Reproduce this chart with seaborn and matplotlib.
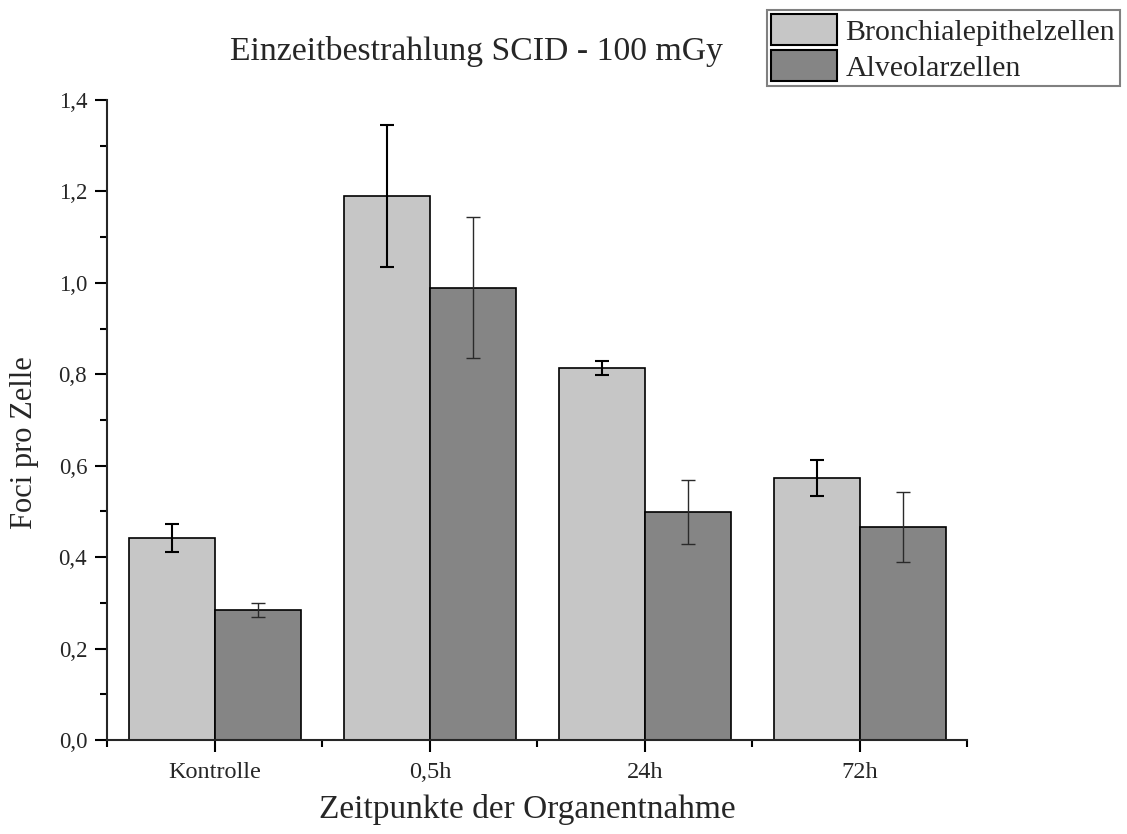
import matplotlib
matplotlib.use("Agg")
import matplotlib.pyplot as plt
from matplotlib.patches import Patch
import numpy as np
import pandas as pd
import seaborn as sns

# Foci per cell after single irradiation (SCID mice, 100 mGy)
categories = ["Kontrolle", "0,5h", "24h", "72h"]
cell_types = ["Bronchialepithelzellen", "Alveolarzellen"]
bronchial_mean = [0.442, 1.190, 0.813, 0.573]
bronchial_err = [0.030, 0.156, 0.015, 0.039]
alveolar_mean = [0.284, 0.989, 0.499, 0.466]
alveolar_err = [0.015, 0.154, 0.070, 0.077]
y_ticks = [0.0, 0.2, 0.4, 0.6, 0.8, 1.0, 1.2, 1.4]
y_tick_labels = ["0,0", "0,2", "0,4", "0,6", "0,8", "1,0", "1,2", "1,4"]

title = "Einzeitbestrahlung SCID - 100 mGy"
x_label = "Zeitpunkte der Organentnahme"
y_label = "Foci pro Zelle"

light = "#c6c6c6"
dark = "#858585"

df = pd.DataFrame({
    "Zeitpunkt": categories * 2,
    "Zelltyp": [cell_types[0]] * 4 + [cell_types[1]] * 4,
    "Foci": bronchial_mean + alveolar_mean,
})

sns.set_style("ticks")
plt.rcParams["font.family"] = ["Liberation Serif", "DejaVu Serif"]
plt.rcParams["axes.linewidth"] = 1.5

W, H = 1127, 834
fig = plt.figure(figsize=(W / 100, H / 100), dpi=100)
ax = fig.add_axes([107.5 / W, 1 - 740 / H, 860 / W, 640 / H])

sns.barplot(data=df, x="Zeitpunkt", y="Foci", hue="Zelltyp",
            order=categories, hue_order=cell_types,
            palette=[light, dark], width=0.8, errorbar=None,
            edgecolor="black", linewidth=1.2, saturation=1,
            legend=False, ax=ax)

# error bars at the centre of each bar
err_styles = [dict(ecolor="black", elinewidth=1.5, capthick=1.5),
              dict(ecolor="#2a2a2a", elinewidth=1.0, capthick=1.0)]
for cont, means, errs, style in zip(ax.containers,
                                    [bronchial_mean, alveolar_mean],
                                    [bronchial_err, alveolar_err],
                                    err_styles):
    xs = [b.get_x() + b.get_width() / 2 for b in cont]
    ax.errorbar(xs, means, yerr=errs, fmt="none", capsize=5, zorder=5, **style)

ax.set_xlim(-0.5, 3.5)
ax.set_ylim(0, 1.4)
sns.despine(ax=ax)

ax.set_xticks(range(len(categories)))
ax.set_xticklabels(categories, fontsize=17.5)
ax.set_xticks(np.arange(-0.5, 3.6, 1.0), minor=True)
ax.set_yticks(y_ticks)
ax.set_yticklabels(y_tick_labels, fontsize=16.5)
ax.set_yticks(np.arange(0.1, 1.4, 0.2), minor=True)

ax.tick_params(axis="both", which="major", direction="out", length=8.6,
               width=1.5, color="black")
ax.tick_params(axis="both", which="minor", direction="out", length=4.7,
               width=1.5, color="black")
ax.tick_params(axis="x", which="major", pad=7)
ax.tick_params(axis="y", which="major", pad=6)
ax.set_xlabel("")
ax.set_ylabel("")

fig.text(476 / W, 1 - 60 / H, title, ha="center", va="baseline", fontsize=24.3)
fig.text(527 / W, 1 - 818 / H, x_label, ha="center", va="baseline", fontsize=24)
fig.text(25 / W, 1 - 443 / H, y_label, ha="center", va="center",
         rotation=90, fontsize=22)

handles = [Patch(facecolor=light, edgecolor="black", linewidth=1.5),
           Patch(facecolor=dark, edgecolor="black", linewidth=1.5)]
leg = ax.legend(handles, cell_types, loc="upper left",
                bbox_to_anchor=(767 / W, 1 - 10 / H),
                bbox_transform=fig.transFigure, fontsize=21.5,
                frameon=True, fancybox=False, framealpha=1,
                edgecolor="#808080", borderpad=0.15, borderaxespad=0,
                handlelength=2.2, handleheight=1.2, labelspacing=0.15,
                handletextpad=0.28)
leg.get_frame().set_linewidth(1.5)

fig.savefig("out.png", dpi=100)
